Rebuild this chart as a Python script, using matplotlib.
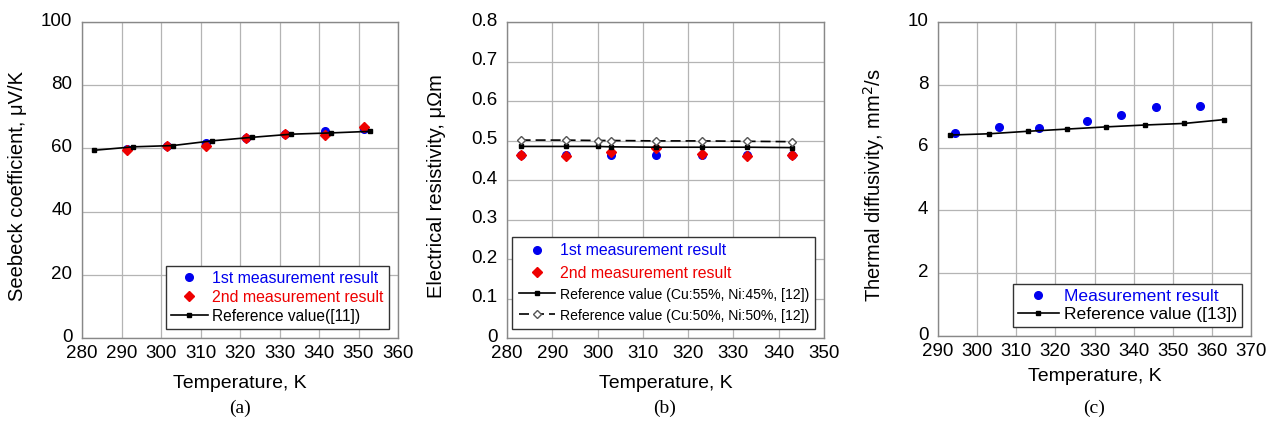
import numpy as np
import matplotlib.pyplot as plt
from matplotlib.transforms import ScaledTranslation

plt.rcParams['font.family'] = ['Liberation Sans', 'DejaVu Sans']

# (a) Seebeck coefficient
ta_ref = [283, 293, 303, 313, 323, 333, 343, 353]
sa_ref = [59.4, 60.5, 60.9, 62.4, 63.5, 64.5, 64.9, 65.4]
ta_meas = [291.5, 301.5, 311.5, 321.5, 331.5, 341.5, 351.5]
sa_1st = [59.8, 60.9, 61.8, 63.3, 64.6, 65.5, 66.0]
sa_2nd = [59.5, 60.8, 60.9, 63.3, 64.5, 64.3, 66.8]

# (b) Electrical resistivity
tb_ref = [283, 293, 300, 303, 313, 323, 333, 343]
rb_55 = [0.485, 0.485, 0.485, 0.484, 0.483, 0.483, 0.483, 0.482]
rb_50 = [0.501, 0.501, 0.500, 0.500, 0.499, 0.499, 0.498, 0.497]
tb_meas = [283, 293, 303, 313, 323, 333, 343]
rb_1st = [0.464, 0.463, 0.463, 0.463, 0.463, 0.463, 0.464]
rb_2nd = [0.463, 0.462, 0.472, 0.482, 0.467, 0.462, 0.464]

# (c) Thermal diffusivity
tc_ref = [293, 303, 313, 323, 333, 343, 353, 363]
dc_ref = [6.40, 6.44, 6.52, 6.59, 6.66, 6.72, 6.77, 6.89]
tc_meas = [294.4, 305.6, 315.7, 328.1, 336.7, 345.7, 357.0]
dc_meas = [6.46, 6.67, 6.62, 6.86, 7.03, 7.28, 7.31]

W, H = 1279, 428
fig = plt.figure(figsize=(W / 100, H / 100), dpi=100)


def make_axes(l, r, t, b):
    ax = fig.add_axes([l / W, (H - b) / H, (r - l) / W, (b - t) / H])
    ax.grid(True, color='#b4b4b4', linewidth=0.9)
    ax.set_axisbelow(True)
    for s in ax.spines.values():
        s.set_color('#888888')
        s.set_linewidth(1.0)
    ax.tick_params(length=0, labelsize=13.5, pad=7)
    ax.tick_params(axis='x', pad=5)
    return ax


def raise_yticks(ax):
    off = ScaledTranslation(0, 2 / 72, fig.dpi_scale_trans)
    for lab in ax.get_yticklabels():
        lab.set_transform(lab.get_transform() + off)


blue = '#0000ee'
red = '#ee0000'

# panel a
ax = make_axes(82, 398, 22, 338)
ax.plot(ta_meas, sa_1st, 'o', color=blue, ms=5.5, label='1st measurement result', zorder=3)
ax.plot(ta_meas, sa_2nd, 'D', color=red, ms=5, label='2nd measurement result', zorder=4)
ax.plot(ta_ref, sa_ref, 's-', color='black', ms=2.5, lw=1.2, label='Reference value([11])', zorder=5)
ax.set_xlim(280, 360)
ax.set_ylim(0, 100)
ax.set_xticks(np.arange(280, 361, 10))
ax.set_yticks(np.arange(0, 101, 20))
ax.set_xlabel('Temperature, K', fontsize=14)
ax.set_ylabel('Seebeck coefficient, μV/K', fontsize=14.5)
ax.xaxis.set_label_coords(0.5, -0.117)
ax.yaxis.set_label_coords(-0.174, 0.48)
raise_yticks(ax)
leg = ax.legend(loc='lower right', fontsize=11.4, frameon=True, fancybox=False,
                edgecolor='#333333', framealpha=1, borderaxespad=0.6,
                handlelength=2.3, handletextpad=0.3, borderpad=0.3, labelspacing=0.25)
leg.get_frame().set_linewidth(1.0)
for txt, c in zip(leg.get_texts(), [blue, red, 'black']):
    txt.set_color(c)
leg.get_texts()[2].set_fontsize(11.2)

# panel b
ax = make_axes(507, 824, 22, 338)
ax.plot(tb_meas, rb_1st, 'o', color=blue, ms=5.5, label='1st measurement result', zorder=3)
ax.plot(tb_meas, rb_2nd, 'D', color=red, ms=5, label='2nd measurement result', zorder=4)
ax.plot(tb_ref, rb_55, 's-', color='black', ms=2.5, lw=1.2,
        label='Reference value (Cu:55%, Ni:45%, [12])', zorder=5)
ax.plot(tb_ref, rb_50, 'D--', color='black', mfc='white', mec='#555555', ms=4, lw=1.2,
        dashes=(6, 3), label='Reference value (Cu:50%, Ni:50%, [12])', zorder=5)
ax.set_xlim(280, 350)
ax.set_ylim(0, 0.8)
ax.set_xticks(np.arange(280, 351, 10))
ax.set_yticks(np.arange(0, 0.81, 0.1))
ax.set_yticklabels(['0', '0.1', '0.2', '0.3', '0.4', '0.5', '0.6', '0.7', '0.8'])
ax.set_xlabel('Temperature, K', fontsize=14)
ax.set_ylabel('Electrical resistivity, μΩm', fontsize=14.5)
ax.xaxis.set_label_coords(0.5, -0.117)
ax.yaxis.set_label_coords(-0.192, 0.48)
raise_yticks(ax)
leg = ax.legend(loc='lower right', fontsize=11.4, frameon=True, fancybox=False,
                edgecolor='#333333', framealpha=1, borderaxespad=0.55,
                handlelength=2.3, handletextpad=0.3, borderpad=0.4, labelspacing=0.45)
leg.get_frame().set_linewidth(1.0)
for txt, c in zip(leg.get_texts(), [blue, red, 'black', 'black']):
    txt.set_color(c)
leg.get_texts()[2].set_fontsize(10.1)
leg.get_texts()[3].set_fontsize(10.1)

# panel c
ax = make_axes(938, 1251, 22, 336)
ax.plot(tc_meas, dc_meas, 'o', color=blue, ms=5.5, label='Measurement result', zorder=3)
ax.plot(tc_ref, dc_ref, 's-', color='black', ms=2.5, lw=1.2, label='Reference value ([13])', zorder=5)
ax.set_xlim(290, 370)
ax.set_ylim(0, 10)
ax.set_xticks(np.arange(290, 371, 10))
ax.set_yticks(np.arange(0, 11, 2))
ax.set_xlabel('Temperature, K', fontsize=14)
ax.set_ylabel('Thermal diffusivity, mm$^2$/s', fontsize=14.5)
ax.xaxis.set_label_coords(0.5, -0.102)
ax.yaxis.set_label_coords(-0.163, 0.48)
raise_yticks(ax)
leg = ax.legend(loc='lower right', fontsize=12.6, frameon=True, fancybox=False,
                edgecolor='#333333', framealpha=1, borderaxespad=0.5,
                handlelength=2.3, handletextpad=0.3, borderpad=0.3, labelspacing=0.15)
leg.get_frame().set_linewidth(1.0)
for txt, c in zip(leg.get_texts(), [blue, 'black']):
    txt.set_color(c)

# captions
for xc, lab in [(240, '(a)'), (665, '(b)'), (1094, '(c)')]:
    fig.text(xc / W, 1 - 408 / H, lab, ha='center', va='center', fontsize=14,
             family='Liberation Serif')

fig.savefig('out.png', dpi=100)
